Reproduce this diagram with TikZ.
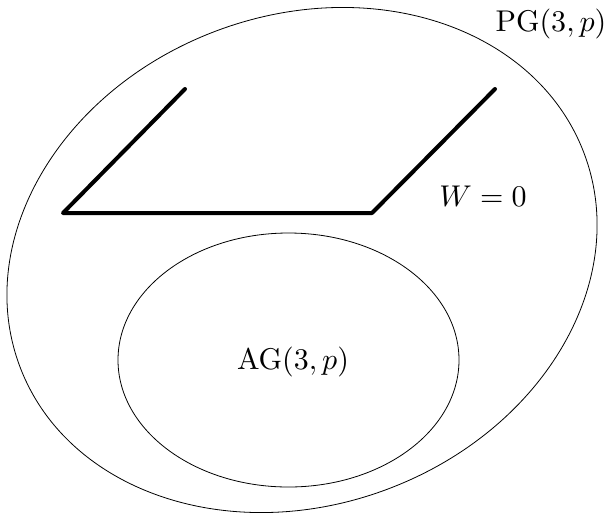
\documentclass[tikz,border=0pt]{standalone}
\begin{document}
\begin{tikzpicture}[x=1pt,y=1pt,
  thinline/.style={line width=0.8pt},
  plane/.style={line width=4pt,line cap=round,line join=round},
  lab/.style={inner sep=0pt,font=\normalsize,scale=3}]
\useasboundingbox (0,0) rectangle (612,-515);
% outer (tilted) ellipse
\draw[thinline,rotate around={20.8:(302,-260)}] (302,-260) ellipse [x radius=301.6pt, y radius=244.6pt];
% inner ellipse
\draw[thinline] (288.5,-360) ellipse [x radius=170.5pt, y radius=127pt];
% plane W=0
\coordinate (p1) at (185,-89);
\coordinate (p2) at (63,-213);
\coordinate (p3) at (372,-213);
\coordinate (p4) at (495,-89);
\draw[plane] (p1) -- (p2) -- (p3) -- (p4);
% labels
\node[lab] (pg) at (551,-24) {$\mathrm{PG}(3,p)$};
\node[lab] (w) at (483,-196) {$W=0$};
\node[lab] (ag) at (293,-362) {$\mathrm{AG}(3,p)$};
\end{tikzpicture}
\end{document}
